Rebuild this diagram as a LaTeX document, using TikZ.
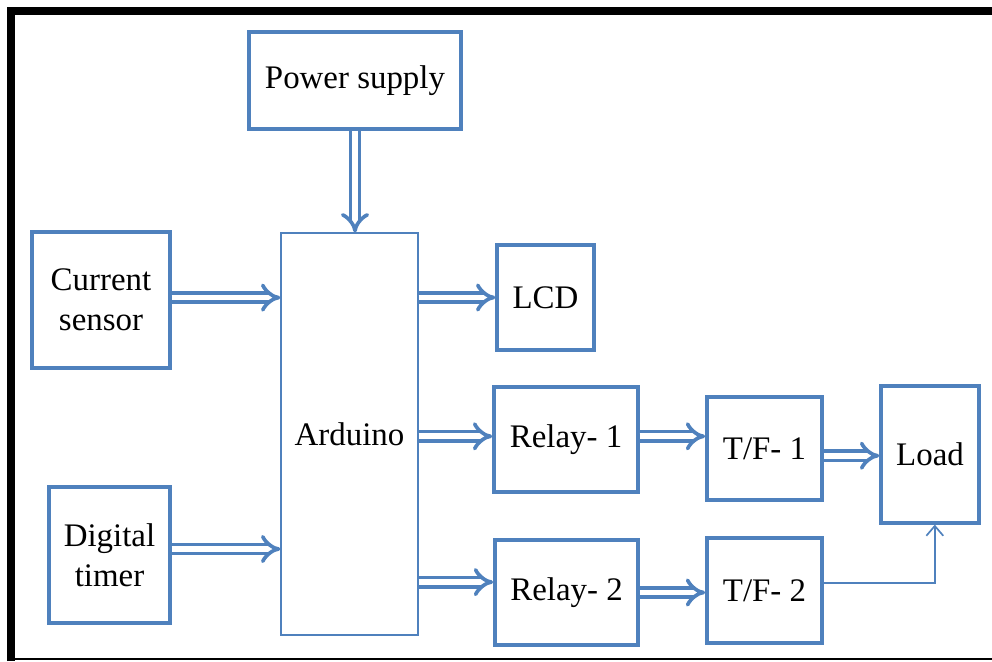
\documentclass[tikz,border=0pt]{standalone}
\usepackage{fontspec}
\setmainfont{Liberation Serif}
\usepackage{xcolor}
\usepackage{tikz}
\usetikzlibrary{arrows.meta}
\definecolor{boxblue}{RGB}{79,129,189}

\begin{document}
\begin{tikzpicture}[
  x=0.0125cm,y=-0.0125cm,
  font=\fontsize{11.7}{14.2}\selectfont,
  block/.style={draw=boxblue,line width=1.2pt,align=center,inner sep=0pt},
  dblarrow/.style={draw=boxblue,line width=1.3pt,double=white,double distance=2pt,-{Implies}},
  thinarrow/.style={draw=boxblue,line width=0.6pt,-{Straight Barb[length=3.5pt,width=6pt]}}
]
\useasboundingbox (0,0) rectangle (992,661);
% frame
\draw[line width=0.1cm] (11,661) -- (11,11) -- (992,11);
\draw[line width=0.6pt] (9,659) -- (992,659);
% blocks
\node[block,minimum width=2.65cm,minimum height=1.21cm] (psu) at (355,80.5) {Power supply};
\node[block,minimum width=1.725cm,minimum height=1.7cm] (cur) at (101,300) {Current\\sensor};
\node[block,minimum width=1.51cm,minimum height=1.7cm] (tim) at (109.5,555) {Digital\\timer};
\node[block,line width=0.5pt,minimum width=1.71cm,minimum height=5.02cm] (ard) at (349.5,434) {Arduino};
\node[block,minimum width=1.21cm,minimum height=1.31cm] (lcd) at (545.5,297.5) {LCD};
\node[block,minimum width=1.8cm,minimum height=1.31cm] (rel1) at (566,439.5) {Relay- 1};
\node[block,minimum width=1.79cm,minimum height=1.31cm] (rel2) at (566.5,592.5) {Relay- 2};
\node[block,minimum width=1.44cm,minimum height=1.29cm] (tf1) at (764.5,448.5) {T/F- 1};
\node[block,minimum width=1.44cm,minimum height=1.31cm] (tf2) at (764.5,590.5) {T/F- 2};
\node[block,minimum width=1.225cm,minimum height=1.71cm] (load) at (930,454.5) {Load};
% connections
\draw[dblarrow] (psu.south) -- (psu.south |- ard.north);
\draw[dblarrow] ([yshift=0.03cm]cur.east) -- ([yshift=0.03cm]cur.east -| ard.west);
\draw[dblarrow] ([yshift=0.075cm]tim.east) -- ([yshift=0.075cm]tim.east -| ard.west);
\draw[dblarrow] (lcd.west -| ard.east) -- (lcd.west);
\draw[dblarrow] ([yshift=0.04cm]rel1.west -| ard.east) -- ([yshift=0.04cm]rel1.west);
\draw[dblarrow] ([yshift=0.13cm]rel2.west -| ard.east) -- ([yshift=0.13cm]rel2.west);
\draw[dblarrow] ([yshift=0.04cm]rel1.east) -- ([yshift=0.04cm]rel1.east -| tf1.west);
\draw[dblarrow] (rel2.east) -- (rel2.east -| tf2.west);
\draw[dblarrow] ([yshift=-0.09cm]tf1.east) -- ([yshift=-0.09cm]tf1.east -| load.west);
\draw[thinarrow] ([yshift=0.09cm]tf2.east) -| ([xshift=0.06cm]load.south);
\end{tikzpicture}
\end{document}
